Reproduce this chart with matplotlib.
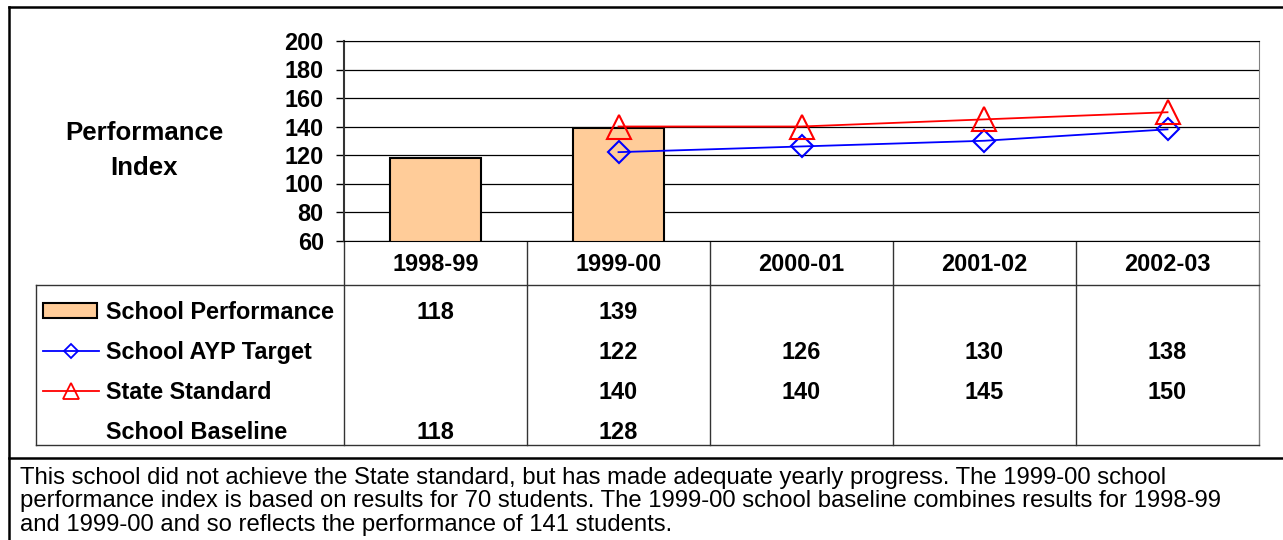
import matplotlib
matplotlib.use("Agg")
import matplotlib.pyplot as plt
import matplotlib.transforms as mtransforms
from matplotlib.patches import Rectangle
import numpy as np

W, H = 1283, 540

# ---- data ----
YEARS = ["1998-99", "1999-00", "2000-01", "2001-02", "2002-03"]
SCHOOL_PERF = [118, 139]
AYP_TARGET = [np.nan, 122, 126, 130, 138]
STATE_STD = [np.nan, 140, 140, 145, 150]
BASELINE = [118, 128, np.nan, np.nan, np.nan]
Y_TICKS = [60, 80, 100, 120, 140, 160, 180, 200]
SERIES = ["School Performance", "School AYP Target", "State Standard", "School Baseline"]
NOTE = [
    "This school did not achieve the State standard, but has made adequate yearly progress. The 1999-00 school",
    "performance index is based on results for 70 students. The 1999-00 school baseline combines results for 1998-99",
    "and 1999-00 and so reflects the performance of 141 students.",
]

BAR_C = "#FFCC99"
BLUE = "#0000FF"
RED = "#FF0000"
FS = 16.9

plt.rcParams["font.family"] = ["Liberation Sans", "DejaVu Sans"]

fig = plt.figure(figsize=(W / 100, H / 100), dpi=100)

# overlay in pixel coords (y down)
ov = fig.add_axes([0, 0, 1, 1])
ov.set_xlim(0, W)
ov.set_ylim(H, 0)
ov.axis("off")


def px(l, t, r, b):
    return [l / W, 1 - b / H, (r - l) / W, (b - t) / H]


ax = fig.add_axes(px(344, 41, 1259, 240.5))
x = np.arange(len(YEARS))
ax.bar(x[:len(SCHOOL_PERF)], SCHOOL_PERF, width=0.5, color=BAR_C,
       edgecolor="black", linewidth=1.5, zorder=2)
ax.plot(x, AYP_TARGET, color=BLUE, lw=1.3, marker="D", ms=11.7, mfc="none",
        mec=BLUE, mew=1.5, zorder=3, clip_on=False)
ax.plot(x, STATE_STD, color=RED, lw=1.3, marker="^", ms=17, mfc="none",
        mec=RED, mew=1.5, zorder=3, clip_on=False)
ax.set_xlim(-0.5, len(YEARS) - 0.5)
ax.set_ylim(Y_TICKS[0], Y_TICKS[-1])
ax.set_yticks(Y_TICKS)
ax.set_xticks([])
ax.yaxis.grid(True, color="black", lw=0.9)
ax.set_axisbelow(True)
ax.tick_params(axis="y", length=6, width=1, pad=8.5, labelsize=FS, direction="out")
for lab in ax.get_yticklabels():
    lab.set_fontweight("bold")
ax.spines["left"].set_color("#333333")
ax.spines["left"].set_linewidth(1.5)
ax.spines["right"].set_color("#808080")
ax.spines["top"].set_color("black")
ax.spines["bottom"].set_color("black")

# ---- data table under the chart ----
tr = mtransforms.blended_transform_factory(ax.transData, ov.transData)
x_right = ax.transData.transform((len(YEARS) - 0.5, 0))[0]
lc = "#333333"
for xb in np.arange(-0.5, len(YEARS), 1.0):
    ov.plot([xb, xb], [240.5, 445], color=lc if xb < len(YEARS) - 1 else "#808080",
            lw=1, transform=tr, clip_on=False)
ov.plot([36, x_right], [285, 285], color=lc, lw=1)
ov.plot([36, x_right], [445, 445], color=lc, lw=1)
ov.plot([36, 36], [285, 445], color=lc, lw=1)

for i, yr in enumerate(YEARS):
    ov.text(i, 271, yr, transform=tr, ha="center", va="baseline",
            fontsize=FS, fontweight="bold")

rows = [SCHOOL_PERF + [np.nan] * (len(YEARS) - len(SCHOOL_PERF)), AYP_TARGET, STATE_STD, BASELINE]
baselines = [319, 359, 399, 439]
for r, vals in enumerate(rows):
    yb = baselines[r]
    for i, v in enumerate(vals):
        if not np.isnan(v):
            ov.text(i, yb, f"{v:.0f}", transform=tr, ha="center", va="baseline",
                    fontsize=FS, fontweight="bold")
    ov.text(106, yb, SERIES[r], ha="left", va="baseline", fontsize=FS, fontweight="bold")

# legend keys
ov.add_patch(Rectangle((43, 303), 54, 15, facecolor=BAR_C, edgecolor="black", lw=1.5))
ov.plot([43, 99], [351, 351], color=BLUE, lw=1.3)
ov.plot([71], [351], marker="D", ms=7.6, mfc="none", mec=BLUE, mew=1.3)
ov.plot([43, 99], [391, 391], color=RED, lw=1.3)
ov.plot([71], [391], marker="^", ms=12, mfc="none", mec=RED, mew=1.3)

# axis title
ov.text(144, 140, "Performance", ha="center", va="baseline", fontsize=18.6, fontweight="bold")
ov.text(144, 175, "Index", ha="center", va="baseline", fontsize=18.6, fontweight="bold")

# outer frame
ov.plot([9, W], [6.5, 6.5], color="black", lw=1.8)
ov.plot([9, 9], [6.5, H], color="black", lw=1.8)
ov.plot([9, W], [458, 458], color="black", lw=1.8)

# note text
for k, line in enumerate(NOTE):
    ov.text(20, 484 + k * 23.5, line, ha="left", va="baseline", fontsize=17.2)

fig.savefig("out.png", dpi=100)
